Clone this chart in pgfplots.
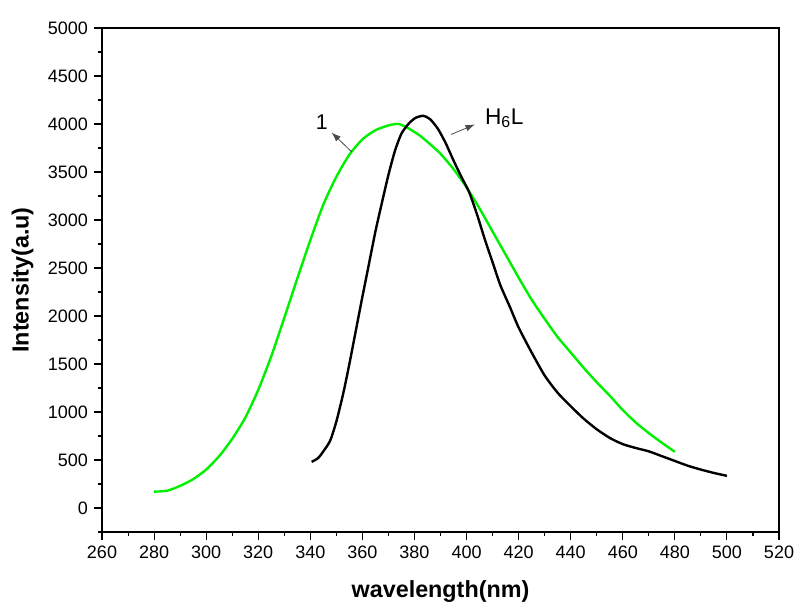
\documentclass[border=0pt]{standalone}
\usepackage{pgfplots}
\pgfplotsset{compat=1.18}
\usepackage{fontspec}
\setmainfont{Liberation Sans}
\usetikzlibrary{arrows.meta}

\definecolor{limegreen}{RGB}{0,240,0}

\begin{document}
\begin{tikzpicture}
\begin{axis}[
	name=main,
	scale only axis,
	width=507.75pt, height=378pt,
	xmin=260, xmax=520,
	ymin=-250, ymax=5000,
	xtick distance=20, ytick distance=500,
	minor x tick num=1, minor y tick num=1,
	tick pos=left,
	tick align=outside,
	major tick length=6pt,
	minor tick length=3pt,
	axis line style={line width=0.9pt},
	every tick/.style={black, line width=0.8pt},
	/pgf/number format/assume math mode=true,
	/pgf/number format/1000 sep={},
	tick label style={font=\fontsize{13.5}{15}\selectfont},
	xticklabel style={yshift=-1pt},
	yticklabel style={xshift=-1pt},
	xlabel={wavelength(nm)},
	ylabel={Intensity(a.u)},
	label style={font=\fontsize{17.5}{20}\selectfont\bfseries},
	xlabel style={at={([yshift=-45pt]axis description cs:0.5,0)}, anchor=center},
	ylabel style={at={([xshift=-59.6pt]axis description cs:0,0.5)}, anchor=center},
	clip=false,
]
% compound 1 (green)
\addplot[limegreen, line width=1.8pt, smooth, tension=0.4] coordinates {
	(280,170) (285,180) (290,230) (295,300) (300,400) (305,540) (310,720)
	(315,940) (320,1230) (325,1580) (330,1980) (335,2390) (340,2790)
	(345,3160) (350,3450) (355,3680) (360,3840) (365,3935) (370,3985)
	(374,4000) (378,3950) (382,3880) (386,3790) (390,3690) (395,3530)
	(400,3340) (405,3120) (410,2880) (415,2640) (420,2400) (425,2170)
	(430,1970) (435,1780) (440,1620) (445,1460) (450,1310) (455,1170)
	(460,1020) (465,890) (470,780) (475,680) (480,585)
};
% H6L (black)
\addplot[black, line width=1.8pt, smooth, tension=0.4] coordinates {
	(340.5,480) (343,520) (345,590) (347.6,700) (350,900) (352.7,1200)
	(355,1500) (357.5,1850) (360,2200) (362.5,2540) (365,2880) (367.5,3180)
	(370,3470) (372.5,3720) (375,3900) (378,4010) (380.5,4065) (383.4,4085)
	(386,4050) (389,3950) (392,3800) (395,3620) (398,3450) (401,3290)
	(404,3060) (407,2800) (410,2560) (413,2320) (416.7,2091) (420,1880)
	(425,1620) (430,1380) (435,1200) (440,1060) (445,930) (450,820)
	(455,730) (460,665) (465,625) (470,590) (475,540) (480,490) (485,440)
	(490,400) (495,365) (500,335)
};
% annotations
\draw[black!70, line width=0.6pt, -{Latex[length=7pt,width=5pt]}]
	(axis cs:355.9,3709) -- (axis cs:348.2,3911);
\node[font=\fontsize{16}{18}\selectfont] at (axis cs:344.4,4022) {1};
\draw[black!70, line width=0.6pt, -{Latex[length=7pt,width=5pt]}]
	(axis cs:394,3890) -- (axis cs:403.2,3995);
\node[font=\fontsize{17}{19}\selectfont, anchor=west] at (axis cs:405.3,4060) {H\textsubscript{6}L};
\end{axis}
\pgfresetboundingbox
\path ([xshift=-76.5pt,yshift=-55.5pt]main.south west) rectangle ([xshift=14.25pt,yshift=21pt]main.north east);
\end{tikzpicture}
\end{document}
